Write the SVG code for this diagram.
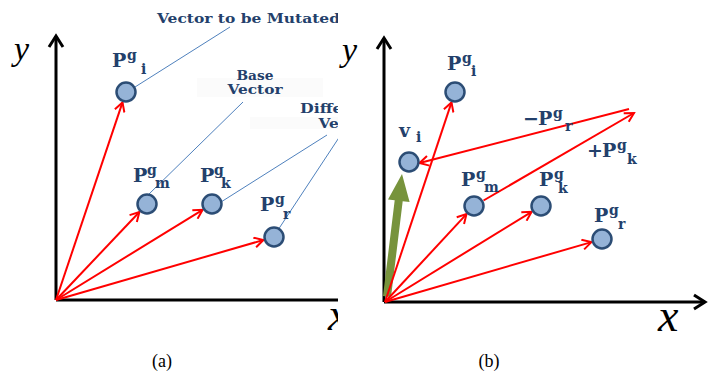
<svg xmlns="http://www.w3.org/2000/svg" width="712" height="374" viewBox="0 0 712 374">
<style>
.ax{stroke:#000;stroke-width:3;fill:none}
.rd{stroke:#ff0000;stroke-width:2;fill:none}
.ld{stroke:#4f81bd;stroke-width:1;fill:none}
.nd{fill:#95b3d7;stroke:#2c4d75;stroke-width:2.5}
.P{font-family:"DejaVu Serif",serif;font-weight:bold;font-size:19px;fill:#23406b}
.s{font-family:"DejaVu Serif",serif;font-weight:bold;font-size:14px;fill:#23406b}
.lb{font-family:"DejaVu Serif",serif;font-weight:bold;font-size:12px;fill:#23406b}
.ml{font-family:"Liberation Serif",serif;font-style:italic;fill:#000}
.cap{font-family:"Liberation Serif",serif;font-size:18px;fill:#000}
</style>
<defs>
<marker id="ar" markerUnits="userSpaceOnUse" markerWidth="12" markerHeight="12" refX="10" refY="6" orient="auto">
<path d="M1,1 L10,6 L1,11" fill="none" stroke="#ff0000" stroke-width="2"/>
</marker>
<marker id="ax" markerUnits="userSpaceOnUse" markerWidth="16" markerHeight="18" refX="13" refY="9" orient="auto">
<path d="M2,2 L13,9 L2,16" fill="none" stroke="#000" stroke-width="3"/>
</marker>
<clipPath id="ca"><rect x="0" y="0" width="338" height="374"/></clipPath>
</defs>
<rect width="712" height="374" fill="#fff"/>

<g id="panel-a" clip-path="url(#ca)">
<rect x="197" y="78" width="126" height="19" fill="#fbfbfb"/>
<rect x="250" y="117" width="90" height="12" fill="#fbfbfb"/>
<g id="axes-a">
<line class="ax" x1="56" y1="300" x2="56" y2="36" marker-end="url(#ax)"/>
<line class="ax" x1="56" y1="300" x2="380" y2="300" marker-end="url(#ax)"/>
<text class="ml" x="14" y="60" font-size="34">y</text>
<text class="ml" x="328" y="330" font-size="46">x</text>
</g>
<g id="connectors-a">
<line class="rd" x1="56" y1="300" x2="122.5" y2="102.4" marker-end="url(#ar)"/>
<line class="rd" x1="56" y1="300" x2="139.4" y2="212" marker-end="url(#ar)"/>
<line class="rd" x1="56" y1="300" x2="202.6" y2="209.8" marker-end="url(#ar)"/>
<line class="rd" x1="56" y1="300" x2="263.4" y2="240" marker-end="url(#ar)"/>
<line class="ld" x1="230" y1="27" x2="135" y2="87"/>
<line class="ld" x1="243" y1="102" x2="148" y2="195"/>
<line class="ld" x1="327" y1="135" x2="221" y2="202"/>
<line class="ld" x1="342" y1="133" x2="278" y2="230"/>
</g>
<g id="label-mutated"><text class="lb" x="157" y="23" textLength="183" lengthAdjust="spacingAndGlyphs">Vector to be Mutated</text></g>
<g id="label-base"><text class="lb" x="255" y="80" text-anchor="middle" textLength="37" lengthAdjust="spacingAndGlyphs">Base</text><text class="lb" x="255" y="94" text-anchor="middle" textLength="55" lengthAdjust="spacingAndGlyphs">Vector</text></g>
<g id="label-diff"><text class="lb" x="346" y="113" text-anchor="middle" textLength="92" lengthAdjust="spacingAndGlyphs">Difference</text><text class="lb" x="346" y="128" text-anchor="middle" textLength="55" lengthAdjust="spacingAndGlyphs">Vector</text></g>
<g id="a-pi"><circle class="nd" cx="126" cy="92" r="9.5"/><text class="P" x="112" y="67">P</text><text class="s" x="127" y="60">g</text><text class="s" x="141" y="74">i</text></g>
<g id="a-pm"><circle class="nd" cx="147" cy="204" r="9.5"/><text class="P" x="133" y="182">P</text><text class="s" x="147" y="175">g</text><text class="s" x="155" y="188">m</text></g>
<g id="a-pk"><circle class="nd" cx="212" cy="204" r="9.5"/><text class="P" x="200" y="182">P</text><text class="s" x="214" y="175">g</text><text class="s" x="221" y="188">k</text></g>
<g id="a-pr"><circle class="nd" cx="274" cy="237" r="9.5"/><text class="P" x="260" y="211">P</text><text class="s" x="275" y="204">g</text><text class="s" x="283" y="219">r</text></g>
</g>
<text class="cap" x="162" y="367" text-anchor="middle">(a)</text>

<g id="panel-b">
<g id="axes-b">
<line class="ax" x1="384" y1="302" x2="384" y2="38" marker-end="url(#ax)"/>
<line class="ax" x1="384" y1="302" x2="705" y2="302" marker-end="url(#ax)"/>
<text class="ml" x="342" y="61" font-size="34">y</text>
<text class="ml" x="658" y="331" font-size="46">x</text>
</g>
<g id="connectors-b">
<polygon points="383,296 394.7,200.3 388,199.5 402,174 409.6,202.1 402.7,201.3 391,297" fill="#77933c"/>
<line class="rd" x1="385" y1="302" x2="451.5" y2="102.4" marker-end="url(#ar)"/>
<line class="rd" x1="385" y1="302" x2="466.5" y2="214.1" marker-end="url(#ar)"/>
<line class="rd" x1="385" y1="302" x2="531.6" y2="211.8" marker-end="url(#ar)"/>
<line class="rd" x1="385" y1="302" x2="591.4" y2="242.1" marker-end="url(#ar)"/>
<line class="rd" x1="483.5" y1="200.5" x2="634" y2="113" marker-end="url(#ar)"/>
<line class="rd" x1="629" y1="109" x2="419.5" y2="163" marker-end="url(#ar)"/>
</g>
<g id="label-minus"><text class="P" x="523" y="125">−</text><text class="P" x="538" y="125">P</text><text class="s" x="553" y="118">g</text><text class="s" x="565" y="131">r</text></g>
<g id="label-plus"><text class="P" x="587" y="157">+</text><text class="P" x="602" y="157">P</text><text class="s" x="617" y="150">g</text><text class="s" x="627" y="164">k</text></g>
<g id="b-pi"><circle class="nd" cx="455" cy="92" r="9.5"/><text class="P" x="447" y="70">P</text><text class="s" x="462" y="63">g</text><text class="s" x="471" y="76">i</text></g>
<g id="b-vi"><circle class="nd" cx="409" cy="162" r="9.5"/><text class="P" x="399" y="137" font-size="21">v</text><text class="s" x="416" y="142">i</text></g>
<g id="b-pm"><circle class="nd" cx="474" cy="206" r="9.5"/><text class="P" x="461" y="186">P</text><text class="s" x="476" y="179">g</text><text class="s" x="484" y="192">m</text></g>
<g id="b-pk"><circle class="nd" cx="541" cy="206" r="9.5"/><text class="P" x="539" y="186">P</text><text class="s" x="554" y="179">g</text><text class="s" x="558" y="193">k</text></g>
<g id="b-pr"><circle class="nd" cx="602" cy="239" r="9.5"/><text class="P" x="594" y="222">P</text><text class="s" x="609" y="215">g</text><text class="s" x="618" y="229">r</text></g>
</g>
<text class="cap" x="489" y="367" text-anchor="middle">(b)</text>
</svg>
